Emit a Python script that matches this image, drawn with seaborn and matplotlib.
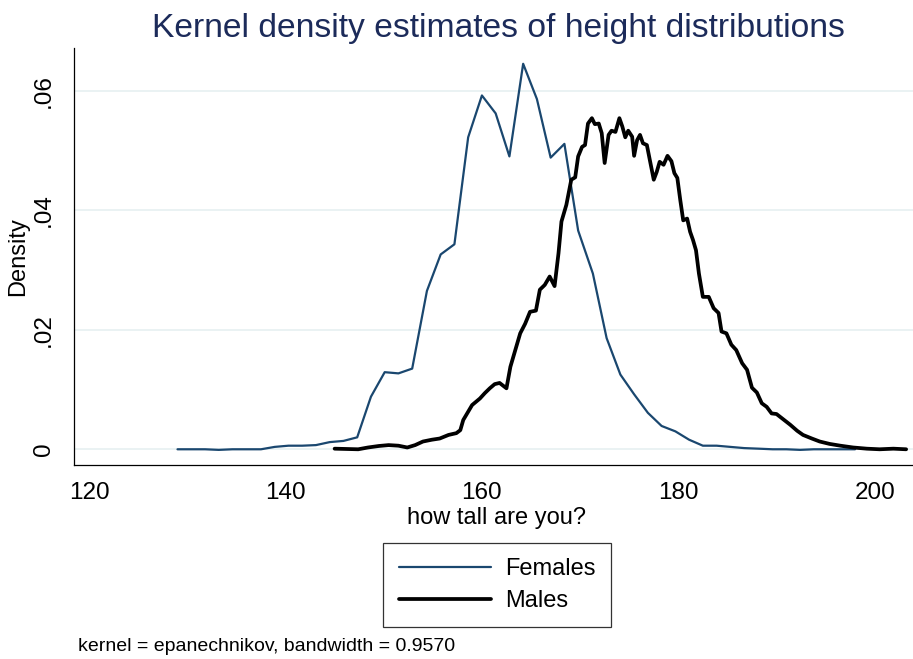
import numpy as np
import pandas as pd
import matplotlib
matplotlib.use("Agg")
import matplotlib.pyplot as plt
import seaborn as sns
from matplotlib.lines import Line2D

# Females: kdensity evaluated on a 50-point grid
female_height = [129.0, 130.4, 131.8, 133.2, 134.6, 136.0, 137.5, 138.9, 140.3, 141.7,
                 143.1, 144.5, 145.9, 147.3, 148.7, 150.1, 151.5, 152.9, 154.4, 155.8,
                 157.2, 158.6, 160.0, 161.4, 162.8, 164.2, 165.6, 167.0, 168.4, 169.8,
                 171.3, 172.7, 174.1, 175.5, 176.9, 178.3, 179.7, 181.1, 182.5, 183.9,
                 185.3, 186.7, 188.2, 189.6, 191.0, 192.4, 193.8, 195.2, 196.6, 198.0]
female_density = [0.0, 0.0, 0.0, -0.0001, 0.0, 0.0, 0.0, 0.0004, 0.0006, 0.0006,
                  0.0007, 0.0012, 0.0014, 0.0020, 0.0088, 0.0129, 0.0127, 0.0135, 0.0265, 0.0326,
                  0.0343, 0.0522, 0.0592, 0.0562, 0.0490, 0.0645, 0.0586, 0.0488, 0.0511, 0.0366,
                  0.0294, 0.0186, 0.0125, 0.0092, 0.0061, 0.0039, 0.0030, 0.0016, 0.0006, 0.0006,
                  0.0004, 0.0002, 0.0001, 0.0, 0.0, -0.0001, 0.0, 0.0, 0.0, 0.0]

# Males: much finer (jagged) curve
male_height = [145.0, 147.4, 148.4, 149.5, 150.5, 151.5, 152.4, 153.2, 154.0, 154.9,
               155.7, 156.6, 157.4, 157.8, 158.1, 159.0, 159.8, 160.3, 160.8, 161.3,
               161.8, 162.5, 162.9, 163.4, 163.9, 164.4, 164.9, 165.5, 165.9, 166.4,
               166.9, 167.4, 167.8, 168.1, 168.6, 169.1, 169.5, 169.8, 170.2, 170.5,
               170.8, 171.2, 171.5, 171.9, 172.2, 172.5, 172.9, 173.2, 173.6, 174.0,
               174.3, 174.6, 174.9, 175.3, 175.5, 175.8, 176.1, 176.4, 176.8, 177.1,
               177.5, 177.8, 178.1, 178.5, 178.9, 179.3, 179.6, 179.9, 180.2, 180.5,
               180.9, 181.2, 181.5, 181.8, 182.1, 182.5, 183.1, 183.6, 184.1, 184.4,
               184.9, 185.4, 185.9, 186.5, 187.0, 187.5, 188.0, 188.5, 189.0, 189.5,
               190.0, 190.7, 191.4, 192.1, 192.7, 193.6, 194.4, 195.4, 196.5, 197.8,
               199.2, 200.5, 201.9, 203.2]
male_density = [0.0001, 0.0, 0.0003, 0.00055, 0.0007, 0.0006, 0.0003, 0.0007, 0.0013, 0.0016,
                0.0018, 0.0024, 0.0027, 0.0032, 0.0049, 0.0074, 0.0085, 0.0094, 0.0102, 0.0109,
                0.0111, 0.0102, 0.0138, 0.0166, 0.0194, 0.0210, 0.0230, 0.0232, 0.0267, 0.0275,
                0.0289, 0.0273, 0.0328, 0.0381, 0.0409, 0.0451, 0.0455, 0.0490, 0.0506, 0.0509,
                0.0545, 0.0554, 0.0544, 0.0545, 0.0529, 0.0479, 0.0526, 0.0533, 0.0531, 0.0554,
                0.0540, 0.0522, 0.0533, 0.0523, 0.0491, 0.0517, 0.0526, 0.0512, 0.0509, 0.0484,
                0.0451, 0.0464, 0.0481, 0.0476, 0.0491, 0.0482, 0.0462, 0.0454, 0.0417, 0.0383,
                0.0386, 0.0364, 0.0350, 0.0333, 0.0294, 0.0255, 0.0255, 0.0236, 0.0228, 0.0197,
                0.0194, 0.0175, 0.0166, 0.0144, 0.0133, 0.0103, 0.0095, 0.0077, 0.0071, 0.0060,
                0.0059, 0.0050, 0.0041, 0.0031, 0.0024, 0.0018, 0.0013, 0.0009, 0.0006, 0.0003,
                0.0001, 0.0, 0.0001, 0.0]

x_ticks = [120, 140, 160, 180, 200]
y_ticks = [0, 0.02, 0.04, 0.06]
y_tick_labels = ["0", ".02", ".04", ".06"]

sns.set_style("white")
plt.rcParams["font.family"] = ["Liberation Sans", "DejaVu Sans"]
plt.rcParams["text.color"] = "black"
plt.rcParams["axes.labelcolor"] = "black"

fem = pd.DataFrame({"height": female_height, "density": female_density})
mal = pd.DataFrame({"height": male_height, "density": male_density})

fig = plt.figure(figsize=(9.13, 6.59), dpi=100)
ax = fig.add_axes([74 / 913, 1 - 465 / 659, 1 - 74 / 913, (465 - 48) / 659])

navy = "#1a476f"
sns.lineplot(data=fem, x="height", y="density", ax=ax, color=navy,
             linewidth=1.6, estimator=None, sort=False)
sns.lineplot(data=mal, x="height", y="density", ax=ax, color="black",
             linewidth=2.7, estimator=None, sort=False)

ax.set_xlim(118.46, 203.9)
ax.set_ylim(-0.00263, 0.06714)
ax.set_xticks(x_ticks)
ax.set_yticks(y_ticks)
ax.set_yticklabels(y_tick_labels, rotation=90, va="center")
ax.tick_params(axis="both", direction="out", length=6, width=0.9,
               labelsize=17.5, colors="black", labelcolor="black", pad=6)
ax.tick_params(axis="y", pad=8)
ax.grid(axis="y", color="#eaf2f3", linewidth=1.4)
ax.set_axisbelow(True)
for side in ["top", "right"]:
    ax.spines[side].set_visible(False)
for side in ["left", "bottom"]:
    ax.spines[side].set_color("black")
    ax.spines[side].set_linewidth(0.9)
ax.set_xlabel("")
ax.set_ylabel("")

fig.text(498 / 913, 1 - 37 / 659, "Kernel density estimates of height distributions",
         ha="center", va="baseline", fontsize=24.2, color="#1c2b5a")
fig.text(496 / 913, 1 - 524 / 659, "how tall are you?", ha="center",
         va="baseline", fontsize=17, color="black")
fig.text(18 / 913, 1 - 257 / 659, "Density", ha="center", va="center",
         rotation=90, fontsize=17, color="black")
fig.text(78 / 913, 1 - 651 / 659, "kernel = epanechnikov, bandwidth = 0.9570",
         ha="left", va="baseline", fontsize=14, color="black")

handles = [Line2D([], [], color=navy, linewidth=1.6),
           Line2D([], [], color="black", linewidth=2.7)]
leg = fig.legend(handles, ["Females", "Males"], loc="center",
                 bbox_to_anchor=(497 / 913, 1 - 585 / 659), fontsize=17,
                 frameon=True, fancybox=False, edgecolor="black",
                 handlelength=3.9, handletextpad=0.6, borderpad=0.65,
                 labelspacing=0.42, borderaxespad=0)
leg.get_frame().set_linewidth(0.9)
for t in leg.get_texts():
    t.set_color("black")

fig.savefig("out.png", dpi=100)
